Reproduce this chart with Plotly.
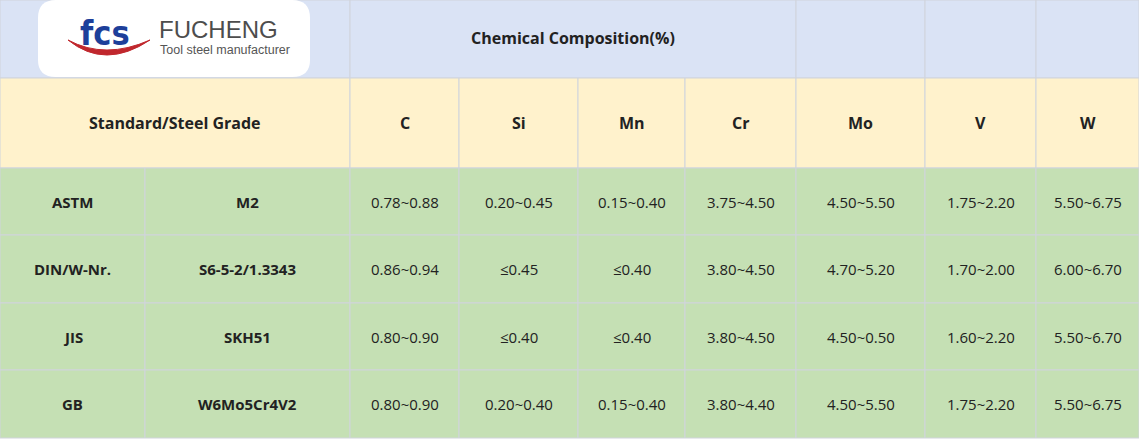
import plotly.graph_objects as go

# table data
elements = ["C", "Si", "Mn", "Cr", "Mo", "V", "W"]
standards = ["ASTM", "DIN/W-Nr.", "JIS", "GB"]
grades = ["M2", "S6-5-2/1.3343", "SKH51", "W6Mo5Cr4V2"]
carbon = ["0.78~0.88", "0.86~0.94", "0.80~0.90", "0.80~0.90"]
silicon = ["0.20~0.45", "≤0.45", "≤0.40", "0.20~0.40"]
manganese = ["0.15~0.40", "≤0.40", "≤0.40", "0.15~0.40"]
chromium = ["3.75~4.50", "3.80~4.50", "3.80~4.50", "3.80~4.40"]
molybdenum = ["4.50~5.50", "4.70~5.20", "4.50~0.50", "4.50~5.50"]
vanadium = ["1.75~2.20", "1.70~2.00", "1.60~2.20", "1.75~2.20"]
tungsten = ["5.50~6.75", "6.00~6.70", "5.50~6.70", "5.50~6.75"]
columns = [carbon, silicon, manganese, chromium, molybdenum, vanadium, tungsten]

# layout (pixels)
W, H = 1139, 440
xe = [0, 145, 350, 459, 578, 685, 796, 925, 1036, 1139]
ye = [0, 78, 168, 235, 303, 370, 438]
BLUE, YEL, GRN, LINE = "#dae3f5", "#fff2cc", "#c5e0b4", "#d0d4dc"
FONT = "Open Sans"

shapes, ann = [], []

def rect(x0, y0, x1, y1, fill):
    shapes.append(dict(type="rect", x0=x0, y0=y0, x1=x1, y1=y1, fillcolor=fill,
                       line=dict(color=LINE, width=1), layer="below"))

def text(x, y, s, size=15, bold=False, color="#222"):
    ann.append(dict(x=x, y=y, text=f"<b>{s}</b>" if bold else s, showarrow=False,
                    font=dict(family=FONT, size=size, color=color), xanchor="center", yanchor="middle"))

# top header
rect(0, ye[0], xe[2], ye[1], BLUE)
rect(xe[2], ye[0], xe[6], ye[1], BLUE)
for i in range(6, 9):
    rect(xe[i], ye[0], xe[i + 1], ye[1], BLUE)
text((xe[2] + xe[6]) / 2, 38, "Chemical Composition(%)", 16, True)

# logo
shapes.append(dict(type="path", path="M 56,0 L 292,0 Q 310,0 310,18 L 310,60 Q 310,77 292,77 L 56,77 Q 38,77 38,60 L 38,18 Q 38,0 56,0 Z",
                   fillcolor="white", line=dict(width=0)))
shapes.append(dict(type="path", path="M 68,40 Q 105,70 150,40 Q 105,60 68,40 Z",
                   fillcolor="#c0272d", line=dict(color="#c0272d", width=1)))
ann.append(dict(x=105, y=33, text="<b>fcs</b>", showarrow=False, xanchor="center", yanchor="middle",
                font=dict(family="DejaVu Sans Condensed", size=34, color="#1d3f9a")))
ann.append(dict(x=157, y=29, text="FUCHENG", showarrow=False, xanchor="left", yanchor="middle",
                font=dict(family="Arial", size=24, color="#4d4d4d")))
ann.append(dict(x=158, y=50, text="Tool steel manufacturer", showarrow=False, xanchor="left", yanchor="middle",
                font=dict(family="Arial", size=12.5, color="#555")))

# second header
rect(0, ye[1], xe[2], ye[2], YEL)
text(xe[2] / 2, 123, "Standard/Steel Grade", 16, True)
for i, el in enumerate(elements):
    rect(xe[i + 2], ye[1], xe[i + 3], ye[2], YEL)
    text((xe[i + 2] + xe[i + 3]) / 2, 123, el, 16, True)

# body
for r in range(len(standards)):
    y0, y1 = ye[r + 2], ye[r + 3]
    ym = (y0 + y1) / 2
    rect(xe[0], y0, xe[1], y1, GRN)
    rect(xe[1], y0, xe[2], y1, GRN)
    text((xe[0] + xe[1]) / 2, ym, standards[r], 15, True)
    text((xe[1] + xe[2]) / 2, ym, grades[r], 15, True)
    for c, col in enumerate(columns):
        rect(xe[c + 2], y0, xe[c + 3], y1, GRN)
        text((xe[c + 2] + xe[c + 3]) / 2, ym, col[r], 15)

fig = go.Figure()
fig.update_layout(width=W, height=H, margin=dict(l=0, r=0, t=0, b=0),
                  paper_bgcolor="white", plot_bgcolor="white",
                  shapes=shapes, annotations=ann, showlegend=False,
                  xaxis=dict(range=[0, W], visible=False, fixedrange=True),
                  yaxis=dict(range=[H, 0], visible=False, fixedrange=True))
fig.write_html("out.html", config={"displayModeBar": False},
               post_script="document.body.style.margin='0';document.body.style.overflow='hidden';")
